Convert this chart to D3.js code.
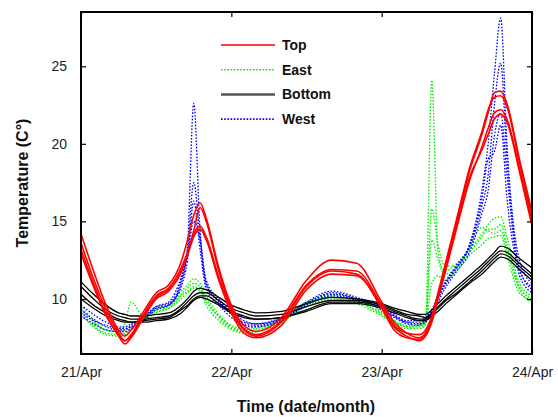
<!DOCTYPE html>
<html>
<head>
<meta charset="utf-8">
<script src="https://cdn.jsdelivr.net/npm/d3@7"></script>
<style>
  body { margin: 0; background: #fff; }
  text { font-family: "Liberation Sans", Arial, sans-serif; }
</style>
</head>
<body>
<svg width="558" height="417"></svg>
<script>
// hours since 21/Apr 00:00
var hours = [0,2,4,6,7,8,10,12,14,16,17,18,19,20,22,24,26,28,32,36,40,44,48,50,52,54,55,56,57,58,60,62,64,65,66,67,68,70,72];

var top1 = [14.2,11.8,9.6,8.0,7.6,8.0,9.2,10.4,10.9,12.4,13.8,15.4,16.2,15.2,12.0,9.6,8.3,7.9,8.8,11.2,12.5,12.3,9.8,8.5,7.8,7.5,7.8,8.8,10.2,11.8,15.0,18.2,20.6,22.0,23.3,23.4,22.6,19.0,15.6];
var top2 = [13.6,11.3,9.3,7.8,7.3,7.7,9.0,10.2,10.7,12.0,13.0,14.2,14.7,14.0,11.4,9.3,8.0,7.6,8.5,10.8,11.8,11.6,9.5,8.2,7.6,7.3,7.6,8.5,10.0,11.5,14.6,17.6,19.8,21.0,22.0,22.2,21.6,18.4,15.0];
var top3 = [13.2,11.0,9.0,7.6,7.1,7.5,8.8,10.0,10.5,11.8,12.8,14.0,14.5,13.8,11.2,9.1,7.8,7.5,8.3,10.6,11.6,11.5,9.4,8.0,7.5,7.4,7.7,8.6,10.1,11.6,14.8,17.8,19.6,20.6,21.6,21.9,21.4,18.2,14.7];
var top4 = [12.9,10.8,8.9,7.7,7.3,7.6,8.9,10.1,10.6,11.7,12.9,14.4,15.9,15.0,11.8,9.4,8.1,7.7,8.6,10.9,11.9,11.8,9.6,8.3,7.8,7.7,8.0,8.9,10.4,12.0,15.2,18.4,20.8,22.2,23.0,23.1,22.4,18.8,15.3];

var east1 = [9.6,8.6,8.0,7.9,8.4,9.8,8.9,9.4,9.6,10.5,10.9,11.3,11.0,10.2,9.0,8.3,8.1,8.2,8.8,9.8,10.3,10.0,9.2,8.6,8.3,8.4,8.6,24.1,13.0,11.8,12.3,13.2,14.2,14.8,15.2,15.3,14.0,11.0,10.2];
var east2 = [9.2,8.3,7.8,7.7,7.8,8.1,8.7,9.3,9.5,10.3,10.7,11.0,10.8,10.0,8.8,8.1,7.9,8.0,8.6,9.6,10.2,9.9,9.0,8.5,8.2,8.3,8.5,15.8,13.5,12.2,12.1,13.0,14.0,14.5,14.5,14.8,13.5,10.8,10.0];
var east3 = [9.4,8.5,8.0,7.9,8.0,8.2,8.8,9.2,9.4,10.2,10.5,10.8,10.6,9.8,8.9,8.2,8.0,8.1,8.7,9.7,10.1,9.8,9.1,8.6,8.2,8.2,8.4,13.8,12.5,11.6,12.0,13.3,14.6,14.4,14.2,14.4,13.2,10.6,9.8];
var east4 = [9.0,8.2,7.7,7.6,7.7,8.0,8.6,9.1,9.4,10.0,10.4,10.7,10.5,9.6,8.6,8.0,7.8,7.9,8.5,9.5,10.0,9.7,8.9,8.4,8.1,8.1,8.3,11.0,11.5,11.2,11.8,12.8,13.5,13.9,14.0,14.1,12.8,10.4,9.9];

var bottom1 = [11.1,10.3,9.6,9.1,9.0,8.9,8.9,9.0,9.1,9.6,10.0,10.5,10.7,10.6,10.1,9.6,9.3,9.1,9.2,9.7,10.1,10.0,9.7,9.4,9.2,9.0,9.0,9.3,9.7,10.1,10.8,11.5,12.2,12.6,13.0,13.4,13.3,12.6,12.0];
var bottom2 = [10.8,10.0,9.3,8.9,8.8,8.7,8.7,8.8,8.9,9.4,9.8,10.2,10.4,10.4,9.9,9.4,9.1,8.9,9.0,9.5,9.9,9.9,9.6,9.3,9.0,8.9,8.8,9.1,9.5,9.9,10.6,11.3,12.0,12.4,12.8,13.1,13.0,12.3,11.6];
var bottom3 = [10.3,9.6,9.1,8.7,8.6,8.5,8.6,8.7,8.8,9.3,9.6,10.0,10.2,10.2,9.7,9.2,8.9,8.7,8.8,9.3,9.8,9.8,9.5,9.2,8.9,8.7,8.7,9.0,9.4,9.8,10.4,11.1,11.8,12.2,12.6,12.9,12.8,12.1,11.4];
var bottom4 = [10.0,9.4,8.9,8.6,8.5,8.5,8.5,8.6,8.7,9.1,9.5,9.9,10.1,10.0,9.6,9.1,8.8,8.7,8.8,9.2,9.7,9.7,9.4,9.1,8.8,8.6,8.6,8.9,9.2,9.6,10.3,11.0,11.6,12.0,12.4,12.7,12.6,11.9,11.2];

var west1 = [9.6,9.0,8.5,8.2,8.2,8.4,8.9,9.5,9.7,11.2,13.5,22.6,14.5,11.2,10.0,9.2,8.6,8.4,8.8,9.8,10.5,10.1,9.5,9.0,8.6,8.6,8.8,9.3,10.2,11.0,12.2,13.5,17.0,20.0,24.5,28.1,20.0,12.5,11.0];
var west2 = [9.3,8.7,8.2,8.0,8.0,8.3,8.8,9.4,9.6,11.0,13.0,17.5,14.0,10.9,9.8,9.0,8.4,8.3,8.7,9.7,10.3,10.0,9.4,8.9,8.5,8.4,8.6,9.1,10.0,10.8,12.0,13.3,16.0,18.0,22.5,25.2,19.0,12.0,10.6];
var west3 = [8.9,8.4,8.0,7.9,7.9,8.1,8.6,9.3,9.6,10.8,12.5,16.3,13.2,10.6,9.6,8.8,8.3,8.2,8.6,9.6,10.2,9.9,9.3,8.8,8.4,8.3,8.5,9.0,9.8,10.6,11.8,13.0,15.5,17.0,20.5,22.0,18.0,11.5,10.4];
var west4 = [9.1,8.6,8.3,8.1,8.1,8.2,8.7,9.5,9.8,11.4,12.8,15.0,13.8,11.0,9.9,9.1,8.5,8.4,8.7,9.7,10.4,10.0,9.4,8.9,8.5,8.5,8.7,9.2,10.1,10.9,12.1,13.4,16.5,19.0,19.5,21.2,16.5,11.8,10.8];

var seriesNames = ["Top", "East", "Bottom", "West"];
var seriesColors = ["#ff0000", "#00ee00", "#000000", "#0000ff"];
var seriesLines = [[top1, top2, top3, top4], [east1, east2, east3, east4],
                   [bottom1, bottom2, bottom3, bottom4], [west1, west2, west3, west4]];
var seriesDash = [null, "1.6,1.6", null, "1.6,1.6"];

var dayTicks = [0, 24, 48, 72];
var dayLabels = ["21/Apr", "22/Apr", "23/Apr", "24/Apr"];
var tempTicks = [10, 15, 20, 25];

var svg = d3.select("svg");
var pLeft = 81, pRight = 532, pTop = 12, pBottom = 354;

var x = d3.scaleLinear().domain([0, 72]).range([pLeft, pRight]);
var y = d3.scaleLinear().domain([6.45, 28.5]).range([pBottom, pTop]);

var line = d3.line()
    .x(function(d, i) { return x(hours[i]); })
    .y(function(d) { return y(d); })
    .curve(d3.curveMonotoneX);

var plot = svg.append("g");
plot.append("clipPath").attr("id", "clip")
    .append("rect").attr("x", pLeft).attr("y", pTop)
    .attr("width", pRight - pLeft).attr("height", pBottom - pTop);

// drawing order: East, West, Bottom, Top
[1, 3, 2, 0].forEach(function(s) {
  seriesLines[s].forEach(function(vals) {
    plot.append("path")
        .attr("clip-path", "url(#clip)")
        .attr("d", line(vals))
        .attr("fill", "none")
        .attr("stroke", seriesColors[s])
        .attr("stroke-width", s == 0 ? 1.6 : 1.3)
        .attr("stroke-dasharray", seriesDash[s]);
  });
});

// axes
var xb = svg.append("g").attr("transform", "translate(0," + pBottom + ")")
    .call(d3.axisBottom(x).tickValues(dayTicks).tickFormat(function(d, i) { return dayLabels[i]; })
          .tickSizeInner(-5).tickSizeOuter(0).tickPadding(13));
var xt = svg.append("g").attr("transform", "translate(0," + pTop + ")")
    .call(d3.axisTop(x).tickValues(dayTicks).tickFormat("").tickSizeInner(-5).tickSizeOuter(0));
var yl = svg.append("g").attr("transform", "translate(" + pLeft + ",0)")
    .call(d3.axisLeft(y).tickValues(tempTicks).tickSizeInner(-5).tickSizeOuter(0).tickPadding(14));
var yr = svg.append("g").attr("transform", "translate(" + pRight + ",0)")
    .call(d3.axisRight(y).tickValues(tempTicks).tickFormat("").tickSizeInner(-5).tickSizeOuter(0));

[xb, xt, yl, yr].forEach(function(a) {
  a.select(".domain").remove();
  a.selectAll("line").attr("stroke", "#000").attr("stroke-width", 1.2);
  a.selectAll("text").attr("font-size", 14).attr("fill", "#222")
   .style("font-family", "'Liberation Sans', Arial, sans-serif");
});

svg.append("rect")
    .attr("x", pLeft).attr("y", pTop)
    .attr("width", pRight - pLeft).attr("height", pBottom - pTop)
    .attr("fill", "none").attr("stroke", "#000").attr("stroke-width", 2);

// legend
var legend = svg.append("g");
seriesNames.forEach(function(name, i) {
  var ly = 45 + i * 24.7;
  legend.append("line")
      .attr("x1", 221).attr("x2", 275).attr("y1", ly).attr("y2", ly)
      .attr("stroke", i == 2 ? "#555" : seriesColors[i])
      .attr("stroke-width", i == 2 ? 2.5 : 1.6)
      .attr("stroke-dasharray", seriesDash[i]);
  legend.append("text").text(name)
      .attr("x", 282).attr("y", ly + 5)
      .attr("font-size", 14).attr("font-weight", "bold").attr("fill", "#111");
});

// axis titles
svg.append("text").text("Time (date/month)")
    .attr("x", 306).attr("y", 412)
    .attr("text-anchor", "middle")
    .attr("font-size", 16).attr("font-weight", "bold").attr("fill", "#111");

svg.append("text").text("Temperature (C°)")
    .attr("transform", "translate(28,183) rotate(-90)")
    .attr("text-anchor", "middle")
    .attr("font-size", 16).attr("font-weight", "bold").attr("fill", "#111");
</script>
</body>
</html>
